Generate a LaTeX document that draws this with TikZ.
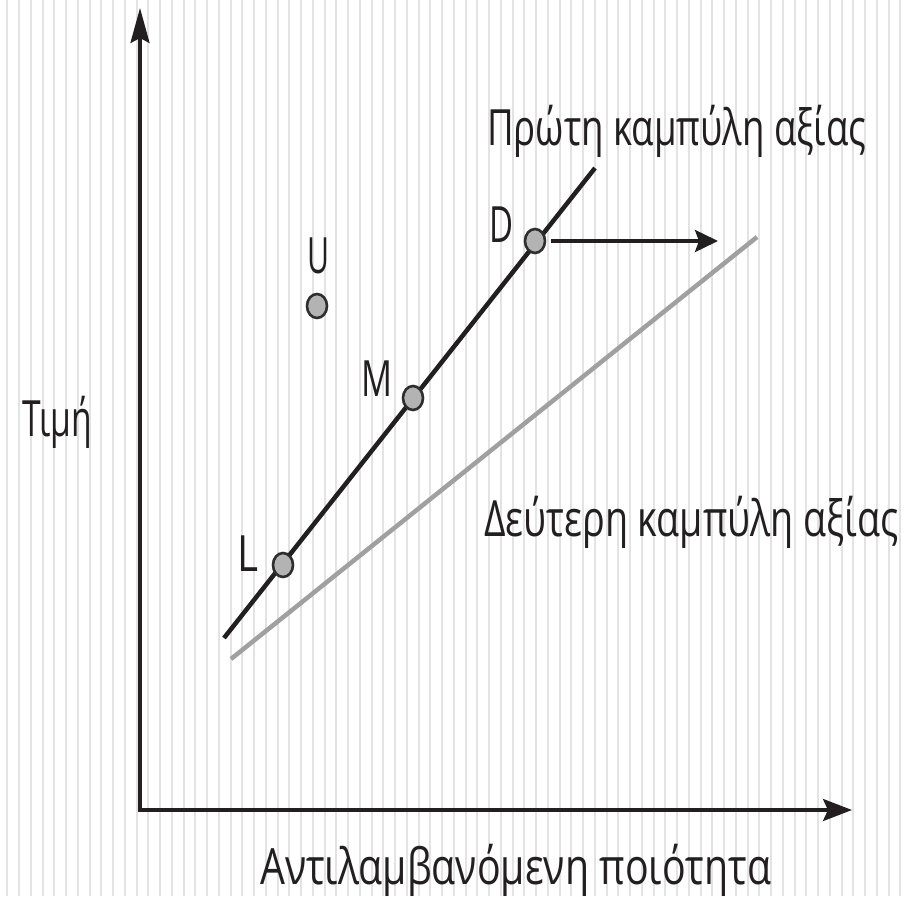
\documentclass[tikz,border=0pt]{standalone}
\usepackage{graphicx}
\usepackage{fontspec}
\setmainfont{Open Sans}
\usetikzlibrary{arrows.meta,shapes.geometric}
\definecolor{ink}{HTML}{231F20}
\definecolor{stripecol}{HTML}{E3E3E3}
\definecolor{graycurve}{HTML}{A0A0A0}
\definecolor{dotfill}{HTML}{B3B3B3}
\definecolor{dotline}{HTML}{2E2E2E}
\newcommand\fitw[2]{\resizebox{#1}{\height}{#2}}
\tikzset{
  stripe/.style={draw=stripecol, line width=2pt},
  axisline/.style={draw=ink, line width=3.2pt},
  valueline/.style={draw=ink, line width=4.5pt},
  valueline2/.style={draw=graycurve, line width=4.5pt},
  dot/.style={ellipse, draw=dotline, fill=dotfill, line width=2.6pt, minimum width=20pt, minimum height=24pt, inner sep=0pt},
  lbl/.style={inner sep=0pt, anchor=base west, text=ink, font=\fontsize{50}{50}\selectfont},
}
\begin{document}
\begin{tikzpicture}[x=1pt,y=-1pt]
\fill[white] (0,0) rectangle (904,896);
\useasboundingbox (0,0) rectangle (904,896);
\foreach \i in {0,...,76} \draw[stripe] ({7.3+11.75*\i},0) -- ++(0,896);
% axes
\coordinate (O) at (140,810);
\coordinate (ytip) at (140,8);
\coordinate (xtip) at (852,810);
\draw[axisline, -{Stealth[length=35pt,width=19pt,inset=5pt]}] ([yshift=1.6pt]O) -- (ytip);
\draw[axisline, -{Stealth[length=29pt,width=22pt,inset=5pt]}] ([xshift=-1.6pt]O) -- (xtip);
% value curves
\coordinate (g1) at (231,659);
\coordinate (g2) at (757,237);
\draw[valueline2] (g1) -- (g2);
\coordinate (b1) at (224,638);
\coordinate (b2) at (595,168);
\draw[valueline] (b1) -- (b2);
% points
\node[dot] (L) at (283,565) {};
\node[dot] (M) at (413,398) {};
\node[dot] (D) at (535,241) {};
\node[dot] (U) at (317,306) {};
\coordinate (Dend) at (718,241);
\draw[draw=ink, line width=3.6pt, -{Stealth[length=23pt,width=22pt,inset=4pt]}] ([xshift=5pt]D.east) -- (Dend);
% letters
\node[lbl] (tD) at (489,242) {\fitw{24pt}{D}};
\node[lbl] (tU) at (307,273) {\fitw{22pt}{U}};
\node[lbl] (tM) at (361,396) {\fitw{31pt}{M}};
\node[lbl] (tL) at (237,571) {\fitw{21pt}{L}};
% texts
\node[lbl] (first) at (487,146) {\fitw{379pt}{Πρώτη καμπύλη αξίας}};
\node[lbl] (second) at (484,536) {\fitw{414pt}{Δεύτερη καμπύλη αξίας}};
\node[lbl] (price) at (22,436) {\fitw{70pt}{Τιμή}};
\node[lbl] (quality) at (260,884) {\fitw{511pt}{Αντιλαμβανόμενη ποιότητα}};
\end{tikzpicture}
\end{document}
